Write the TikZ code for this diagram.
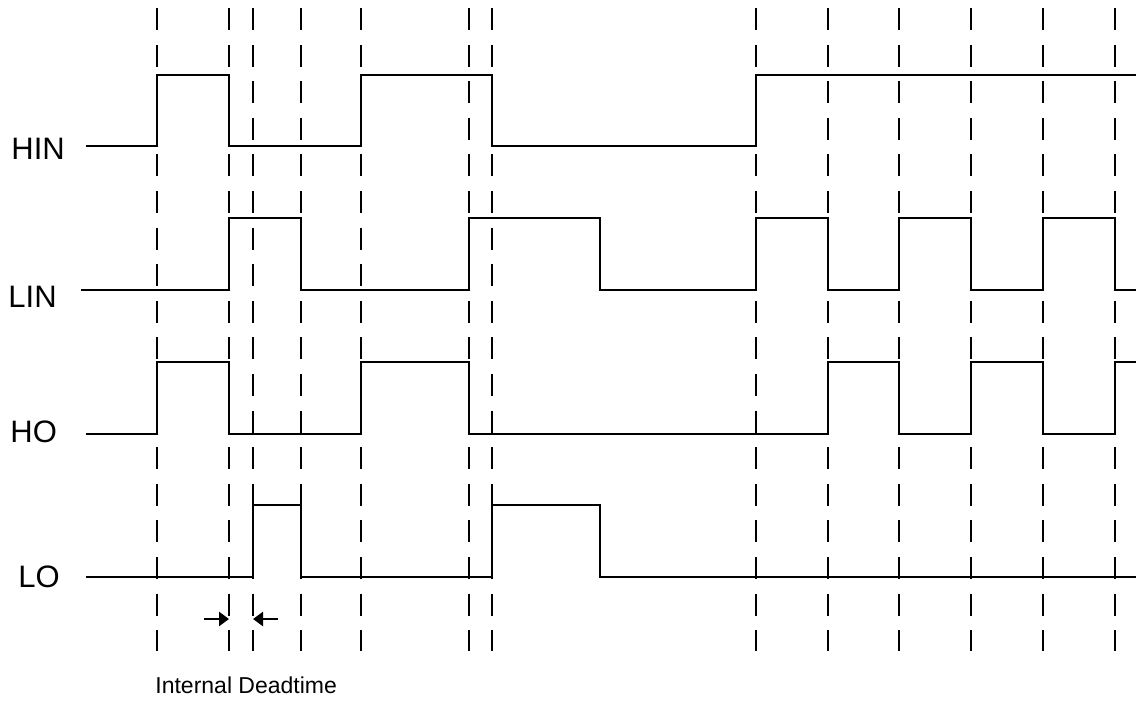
\documentclass[tikz,border=0pt]{standalone}
\usepackage{fontspec}
\setmainfont{Liberation Sans}
\usetikzlibrary{arrows.meta}

\begin{document}
\begin{tikzpicture}[
    x=0.5pt, y=-0.5pt,
    every node/.style={inner sep=0pt, anchor=west},
    signame/.style={font=\fontsize{15.5}{18}\selectfont},
    note/.style={font=\fontsize{11.5}{14}\selectfont},
    signal/.style={line width=1.35pt, line join=miter},
    guide/.style={line width=1.25pt, dash pattern=on 11pt off 7.3pt},
    marker/.style={-{Triangle[length=5pt,width=7pt]}, line width=1.4pt}
]
\useasboundingbox (0,0) rectangle (1136,702);

% dashed time markers
\foreach \t in {157,229,253,301,361,469,492,756,828,899,971,1043,1115}
  \draw[guide] (\t,8) -- (\t,651);

% signal names
\node[signame] (hin) at (11,149) {HIN};
\node[signame] (lin) at (8,297) {LIN};
\node[signame] (ho) at (10,432) {HO};
\node[signame] (lo) at (18,577) {LO};

% waveforms
\draw[signal] (86,146) -| (157,75) -| (229,146) -| (361,75) -| (492,146) -| (756,75) -- (1136,75);
\draw[signal] (81,290) -| (229,218) -| (301,290) -| (469,218) -| (600,290) -| (756,218)
  -| (828,290) -| (899,218) -| (971,290) -| (1043,218) -| (1115,290) -- (1136,290);
\draw[signal] (86,434) -| (157,362) -| (229,434) -| (361,362) -| (469,434) -| (828,362)
  -| (899,434) -| (971,362) -| (1043,434) -| (1115,362) -- (1136,362);
\draw[signal] (86,577) -| (253,505) -| (301,577) -| (492,505) -| (600,577) -- (1136,577);

% deadtime
\coordinate (dtA) at (204,619);
\coordinate (dtB) at (229,619);
\coordinate (dtC) at (278,619);
\coordinate (dtD) at (253,619);
\draw[marker] (dtA) -- (dtB);
\draw[marker] (dtC) -- (dtD);
\node[note] (dead) at (155,685) {Internal Deadtime};
\end{tikzpicture}
\end{document}
